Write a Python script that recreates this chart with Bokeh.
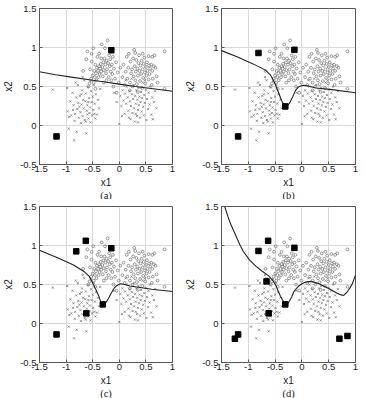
from bokeh.plotting import figure
from bokeh.layouts import column, row
from bokeh.models import FixedTicker, Title
from bokeh.embed import file_html
from bokeh.resources import INLINE

# training set, class drawn with crosses (lower two clusters)
cross_points = [
    (-1.25, 0.46), (-0.98, 0.48), (-0.97, 0.18), (-0.95, -0.04), (-0.94, 0.11), (-0.92, 0.31),
    (-0.90, 0.13), (-0.88, 0.42), (-0.86, 0.26), (-0.85, -0.19), (-0.84, 0.06), (-0.83, 0.15),
    (-0.81, 0.36), (-0.80, -0.08), (-0.79, 0.21), (-0.78, 0.52), (-0.77, 0.29), (-0.76, 0.10),
    (-0.74, 0.38), (-0.73, 0.17), (-0.72, 0.03), (-0.71, 0.27), (-0.70, 0.45), (-0.69, 0.12),
    (-0.68, 0.33), (-0.67, 0.22), (-0.66, 0.58), (-0.65, 0.07), (-0.64, 0.31), (-0.63, 0.41),
    (-0.62, -0.10), (-0.61, 0.19), (-0.60, 0.26), (-0.59, 0.49), (-0.58, 0.09), (-0.57, 0.35),
    (-0.56, 0.16), (-0.55, 0.23), (-0.54, 0.04), (-0.53, 0.44), (-0.52, 0.30), (-0.51, 0.13),
    (-0.50, 0.37), (-0.49, 0.20), (-0.48, 0.52), (-0.47, 0.15), (-0.46, 0.28), (-0.45, 0.09),
    (-0.44, 0.40), (-0.42, 0.14), (-0.40, 0.33), (-0.38, 0.22), (-0.36, 0.47), (-0.87, 0.20),
    (-0.75, 0.24), (-0.71, 0.40), (-0.63, 0.05), (-0.58, 0.30), (-0.82, 0.55), (-0.69, 0.62),
    (-0.60, 0.14), (-0.54, 0.57),
    (0.00, 0.02), (0.02, 0.38), (0.04, 0.25), (0.06, 0.45), (0.08, 0.32), (0.10, 0.15),
    (0.11, 0.41), (0.13, 0.28), (0.14, 0.50), (0.16, 0.36), (0.17, 0.19), (0.19, 0.44),
    (0.20, 0.31), (0.21, 0.08), (0.22, 0.25), (0.24, 0.40), (0.25, 0.16), (0.26, 0.34),
    (0.27, 0.52), (0.28, 0.22), (0.29, 0.05), (0.30, 0.38), (0.31, 0.28), (0.32, 0.45),
    (0.33, 0.12), (0.34, 0.33), (0.35, 0.20), (0.36, 0.48), (0.37, 0.26), (0.38, 0.37),
    (0.39, 0.10), (0.40, 0.30), (0.41, 0.43), (0.42, 0.18), (0.43, 0.35), (0.44, 0.55),
    (0.45, 0.24), (0.46, 0.13), (0.47, 0.39), (0.48, 0.29), (0.50, 0.46), (0.51, 0.07),
    (0.52, 0.34), (0.54, 0.21), (0.55, 0.42), (0.57, 0.27), (0.58, 0.50), (0.60, 0.14),
    (0.62, 0.36), (0.63, 0.08), (0.65, 0.30), (0.67, 0.44), (0.70, 0.22), (0.12, 0.58),
    (0.23, 0.60), (0.35, 0.04), (0.05, 0.12), (-0.05, 0.30), (-0.10, 0.42), (0.18, 0.10),
    (0.48, 0.58), (0.31, 0.15),
]

# training set, class drawn with circles (upper two clusters)
circle_points = [
    (-0.60, 0.95), (-0.58, 0.50), (-0.56, 0.54), (-0.55, 0.72), (-0.53, 0.60), (-0.52, 0.82),
    (-0.50, 0.64), (-0.49, 0.99), (-0.48, 0.55), (-0.47, 0.70), (-0.46, 0.62), (-0.45, 0.78),
    (-0.44, 0.67), (-0.43, 0.58), (-0.42, 0.74), (-0.41, 0.88), (-0.40, 0.70), (-0.39, 0.62),
    (-0.38, 0.76), (-0.37, 0.66), (-0.36, 0.73), (-0.35, 0.79), (-0.34, 0.69), (-0.33, 1.04),
    (-0.32, 0.75), (-0.31, 0.63), (-0.30, 0.81), (-0.29, 0.71), (-0.28, 0.86), (-0.27, 0.99),
    (-0.26, 0.78), (-0.25, 0.67), (-0.24, 0.83), (-0.23, 0.72), (-0.22, 1.09), (-0.21, 0.80),
    (-0.20, 0.62), (-0.19, 0.90), (-0.18, 0.76), (-0.17, 0.85), (-0.16, 0.69), (-0.15, 0.58),
    (-0.14, 0.78), (-0.13, 0.66), (-0.12, 0.88), (-0.11, 0.50), (-0.10, 0.73), (-0.08, 0.60),
    (-0.06, 0.81), (-0.05, 0.42), (-0.03, 0.68), (-0.01, 0.55), (0.02, 0.74), (-0.62, 0.85),
    (-0.38, 0.92), (-0.29, 0.55), (-0.45, 0.47), (-0.52, 0.92), (-0.16, 0.95), (-0.34, 0.86),
    (-0.24, 0.58), (-0.68, 0.70),
    (0.06, 0.62), (0.08, 0.78), (0.10, 0.52), (0.12, 0.69), (0.14, 0.88), (0.15, 0.60),
    (0.17, 0.74), (0.18, 0.92), (0.20, 0.55), (0.21, 0.82), (0.22, 0.67), (0.24, 0.72),
    (0.25, 0.50), (0.26, 0.86), (0.27, 0.63), (0.28, 0.97), (0.29, 0.76), (0.30, 0.58),
    (0.31, 0.69), (0.32, 0.84), (0.33, 0.53), (0.34, 0.73), (0.35, 0.64), (0.36, 0.80),
    (0.37, 0.90), (0.38, 0.70), (0.39, 0.57), (0.40, 0.77), (0.41, 0.66), (0.42, 0.83),
    (0.43, 0.48), (0.44, 0.72), (0.45, 0.61), (0.46, 0.79), (0.47, 0.87), (0.48, 0.68),
    (0.49, 0.54), (0.50, 0.75), (0.51, 0.64), (0.52, 0.81), (0.53, 0.70), (0.55, 0.59),
    (0.56, 0.77), (0.57, 0.66), (0.58, 0.73), (0.60, 0.78), (0.61, 0.52), (0.62, 0.70),
    (0.63, 0.60), (0.65, 0.76), (0.66, 0.90), (0.68, 0.74), (0.70, 0.63), (0.72, 0.55),
    (0.85, 0.95), (0.85, 0.47), (0.30, 0.93), (0.55, 0.89), (0.20, 0.45), (0.44, 0.92),
    (0.62, 0.88), (0.35, 0.43),
]

# decision boundaries, one per panel
boundary_a_x1 = [-1.5, -1.2, -0.9, -0.6, -0.3, 0.0, 0.3, 0.6, 1.0]
boundary_a_x2 = [0.69, 0.65, 0.62, 0.59, 0.56, 0.53, 0.50, 0.475, 0.44]

boundary_b_x1 = [-1.5, -1.21, -0.91, -0.68, -0.59, -0.53, -0.48, -0.44, -0.38, -0.34, -0.31,
                 -0.26, -0.22, -0.17, -0.12, -0.07, -0.03, 0.03, 0.1, 0.26, 0.56, 1.0]
boundary_b_x2 = [0.96, 0.88, 0.79, 0.71, 0.65, 0.58, 0.50, 0.43, 0.32, 0.27, 0.245,
                 0.26, 0.30, 0.37, 0.45, 0.49, 0.505, 0.515, 0.51, 0.48, 0.46, 0.42]

boundary_c_x1 = [-1.5, -1.15, -0.86, -0.65, -0.56, -0.48, -0.43, -0.39, -0.35, -0.32, -0.28,
                 -0.24, -0.19, -0.15, -0.10, -0.06, 0.02, 0.1, 0.2, 0.61, 1.0]
boundary_c_x2 = [0.94, 0.84, 0.75, 0.66, 0.60, 0.49, 0.42, 0.36, 0.28, 0.245, 0.25,
                 0.28, 0.34, 0.39, 0.45, 0.48, 0.51, 0.50, 0.48, 0.44, 0.41]

boundary_d_x1 = [-1.44, -1.38, -1.32, -1.26, -1.21, -1.15, -1.09, -0.97, -0.85, -0.74, -0.62,
                 -0.53, -0.48, -0.44, -0.40, -0.36, -0.31, -0.27, -0.24, -0.19, -0.15, -0.10,
                 -0.06, 0.0, 0.06, 0.18, 0.32, 0.50, 0.65, 0.72, 0.78, 0.85, 0.90, 0.94, 1.0]
boundary_d_x2 = [1.50, 1.37, 1.26, 1.17, 1.09, 1.00, 0.92, 0.81, 0.73, 0.67, 0.61,
                 0.54, 0.48, 0.41, 0.35, 0.30, 0.245, 0.25, 0.28, 0.34, 0.41, 0.45,
                 0.48, 0.51, 0.53, 0.54, 0.51, 0.45, 0.39, 0.37, 0.36, 0.41, 0.46, 0.51, 0.62]

# relevance vectors retained by each model
vectors_a_x1 = [-0.15, -1.18]
vectors_a_x2 = [0.965, -0.14]
vectors_b_x1 = [-0.81, -0.14, -0.31, -1.19]
vectors_b_x2 = [0.93, 0.97, 0.245, -0.14]
vectors_c_x1 = [-0.81, -0.63, -0.15, -0.31, -0.62, -1.18]
vectors_c_x2 = [0.925, 1.06, 0.965, 0.245, 0.13, -0.14]
vectors_d_x1 = [-0.81, -0.63, -0.14, -0.66, -0.62, -0.31, -1.25, -1.19, 0.70, 0.85]
vectors_d_x2 = [0.93, 1.06, 0.97, 0.54, 0.13, 0.245, -0.195, -0.14, -0.195, -0.16]

panel_labels = ["(a)", "(b)", "(c)", "(d)"]
x_ticks = [-1.5, -1, -0.5, 0, 0.5, 1]
y_ticks = [-0.5, 0, 0.5, 1, 1.5]

SANS = "Liberation Sans"
SERIF = "Liberation Serif"
INK = "#222222"
POINT_GREY = "#6e6e6e"

cross_x1 = [pt[0] for pt in cross_points]
cross_x2 = [pt[1] for pt in cross_points]
circle_x1 = [pt[0] for pt in circle_points]
circle_x2 = [pt[1] for pt in circle_points]


def make_panel(label, bx, by, vx, vy, left_col, top_row):
    p = figure(
        width=182 if left_col else 183,
        height=199,
        x_range=(-1.5, 1), y_range=(-0.5, 1.5),
        output_backend="svg", toolbar_location=None,
        min_border_left=30 if left_col else 31,
        min_border_right=10,
        min_border_top=8 if top_row else 7,
        min_border_bottom=35 if top_row else 36,
    )
    p.outline_line_color = "#555555"
    p.outline_line_width = 1
    p.background_fill_color = "white"
    p.border_fill_color = "white"

    for ax in (p.xaxis[0], p.yaxis[0]):
        ax.axis_line_color = None
        ax.major_tick_out = 0
        ax.major_tick_in = 3
        ax.major_tick_line_color = "#555555"
        ax.minor_tick_line_color = None
        ax.major_label_text_font = SANS
        ax.major_label_text_font_size = "9.5px"
        ax.major_label_text_color = INK
        ax.axis_label_text_font = SANS
        ax.axis_label_text_font_size = "10px"
        ax.axis_label_text_font_style = "normal"
        ax.axis_label_text_color = INK
    p.xaxis.ticker = FixedTicker(ticks=x_ticks)
    p.yaxis.ticker = FixedTicker(ticks=y_ticks)
    p.xaxis.major_label_overrides = {-1.5: "-1.5", -1: "-1", -0.5: "-0.5", 0: "0", 0.5: "0.5", 1: "1"}
    p.yaxis.major_label_overrides = {-0.5: "-0.5", 0: "0", 0.5: "0.5", 1: "1", 1.5: "1.5"}
    p.xaxis.major_label_standoff = 1
    p.yaxis.major_label_standoff = 3
    p.xaxis.axis_label = "x1"
    p.yaxis.axis_label = "x2"
    p.xaxis.axis_label_standoff = 2
    p.yaxis.axis_label_standoff = 3

    p.grid.grid_line_color = "#d9d9d9"
    p.grid.grid_line_width = 1

    p.add_layout(Title(text=label, align="center", text_font=SERIF,
                       text_font_size="10.5px", text_font_style="normal",
                       text_color=INK, standoff=-6, offset=0), "below")

    p.scatter(cross_x1, cross_x2, marker="x", size=3.0, line_color=POINT_GREY, line_width=0.7)
    p.scatter(circle_x1, circle_x2, marker="circle", size=2.8, fill_color=None,
              line_color=POINT_GREY, line_width=0.7)
    p.line(bx, by, line_color=INK, line_width=1.1)
    p.scatter(vx, vy, marker="square", size=5.5, fill_color="black", line_color="black")
    return p


pa = make_panel(panel_labels[0], boundary_a_x1, boundary_a_x2, vectors_a_x1, vectors_a_x2, True, True)
pb = make_panel(panel_labels[1], boundary_b_x1, boundary_b_x2, vectors_b_x1, vectors_b_x2, False, True)
pc = make_panel(panel_labels[2], boundary_c_x1, boundary_c_x2, vectors_c_x1, vectors_c_x2, True, False)
pd = make_panel(panel_labels[3], boundary_d_x1, boundary_d_x2, vectors_d_x1, vectors_d_x2, False, False)

layout = column(row(pa, pb), row(pc, pd))
open("out.html", "w").write(file_html(layout, INLINE))
